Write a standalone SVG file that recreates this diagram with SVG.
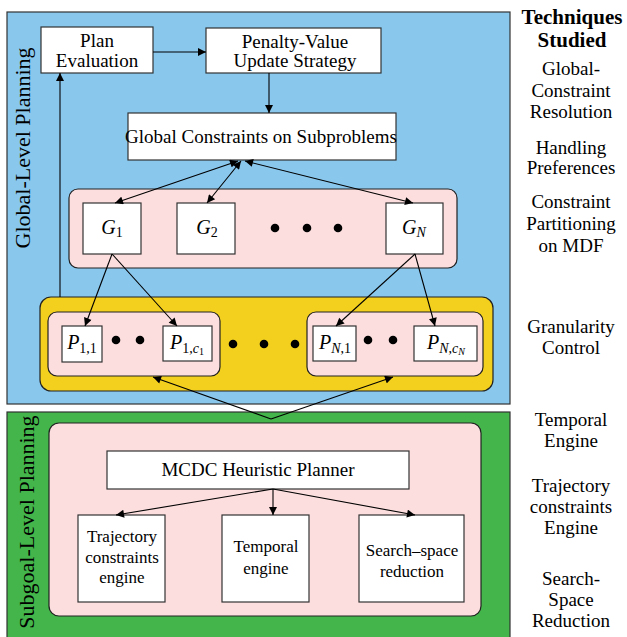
<svg xmlns="http://www.w3.org/2000/svg" width="627" height="637" viewBox="0 0 627 637" font-family="'Liberation Serif', 'DejaVu Serif', serif">
<style>
text{font-family:'Liberation Serif','DejaVu Serif','Times New Roman',serif;fill:#000}
.lbl{font-size:19px;text-anchor:middle}
.sm{font-size:17px;text-anchor:middle}
.side{font-size:19px;text-anchor:middle}
.hdr{font-size:21px;font-weight:bold;text-anchor:middle}
.vert{font-size:22px;text-anchor:middle}
.box{fill:#fff;stroke:#333;stroke-width:1.2}
.pink{fill:#fcdede;stroke:#222;stroke-width:1.2}
.math{font-size:20px;text-anchor:middle}
.it{font-style:italic}
.edge{stroke:#000;stroke-width:1.1;fill:none}
.dot{fill:#000}
</style>
<defs>
<marker id="ah" viewBox="0 0 10 10" refX="10" refY="5" markerWidth="10" markerHeight="8" markerUnits="userSpaceOnUse" orient="auto-start-reverse">
<path d="M0,0 L10,5 L0,10 z" fill="#000"/>
</marker>
</defs>

<g id="global-panel">
<rect x="7" y="12" width="503" height="392" fill="#89c7ed" stroke="#333" stroke-width="1.2"/>
<text class="vert" transform="translate(30,148) rotate(-90)">Global-Level Planning</text>
</g>
<g id="subgoal-panel">
<rect x="7" y="412" width="503" height="230" fill="#43b54a" stroke="#333" stroke-width="1.2"/>
<text class="vert" transform="translate(34,522) rotate(-90)">Subgoal-Level Planning</text>
</g>

<g id="plan-evaluation">
<rect class="box" x="41" y="27" width="112" height="46"/>
<text class="lbl" x="97" y="47">Plan</text>
<text class="lbl" x="97" y="67">Evaluation</text>
</g>
<g id="penalty-value">
<rect class="box" x="206" y="28" width="175" height="45"/>
<text class="lbl" x="295" y="48">Penalty-Value</text>
<text class="lbl" x="295" y="67">Update Strategy</text>
</g>
<g id="global-constraints">
<rect class="box" x="128" y="113" width="268" height="47"/>
<text class="lbl" x="261" y="143">Global Constraints on Subproblems</text>
</g>

<g id="g-group">
<rect class="pink" x="69" y="189" width="388" height="79" rx="9"/>
<g id="g1">
<rect class="box" x="83" y="203" width="58" height="51"/>
<text class="math" x="112" y="234"><tspan class="it">G</tspan><tspan font-size="14" dy="3">1</tspan></text>
</g>
<g id="g2">
<rect class="box" x="177" y="203" width="58" height="51"/>
<text class="math" x="207" y="234"><tspan class="it">G</tspan><tspan font-size="14" dy="3">2</tspan></text>
</g>
<circle class="dot" cx="275" cy="228" r="4.3"/>
<circle class="dot" cx="307" cy="228" r="4.3"/>
<circle class="dot" cx="338" cy="228" r="4.3"/>
<g id="gN">
<rect class="box" x="386" y="203" width="57" height="51"/>
<text class="math" x="414" y="234"><tspan class="it">G</tspan><tspan class="it" font-size="14" dy="3">N</tspan></text>
</g>
</g>

<g id="granularity">
<rect x="40" y="297" width="453" height="94" rx="11" fill="#f4d01e" stroke="#222" stroke-width="1.2"/>
<circle class="dot" cx="233" cy="344" r="4.3"/>
<circle class="dot" cx="264" cy="344" r="4.3"/>
<circle class="dot" cx="295" cy="344" r="4.3"/>
</g>

<g id="p1-group">
<rect class="pink" x="48" y="312" width="172" height="64" rx="9"/>
<g id="p11">
<rect class="box" x="62" y="326" width="40" height="36"/>
<text class="math" x="82" y="349"><tspan class="it">P</tspan><tspan font-size="14" dy="4">1,1</tspan></text>
</g>
<circle class="dot" cx="116" cy="340" r="4.3"/>
<circle class="dot" cx="140" cy="340" r="4.3"/>
<g id="p1c1">
<rect class="box" x="163" y="326" width="49" height="35"/>
<text class="math" x="187" y="349"><tspan class="it">P</tspan><tspan font-size="14" dy="4">1,</tspan><tspan class="it" font-size="14">c</tspan><tspan font-size="10" dy="2">1</tspan></text>
</g>
</g>

<g id="pN-group">
<rect class="pink" x="307" y="312" width="176" height="64" rx="9"/>
<g id="pN1">
<rect class="box" x="313" y="326" width="43" height="35"/>
<text class="math" x="335" y="349"><tspan class="it">P</tspan><tspan class="it" font-size="14" dy="4">N</tspan><tspan font-size="14">,1</tspan></text>
</g>
<circle class="dot" cx="368" cy="340" r="4.3"/>
<circle class="dot" cx="393" cy="340" r="4.3"/>
<g id="pNcN">
<rect class="box" x="414" y="326" width="63" height="35"/>
<text class="math" x="446" y="349"><tspan class="it">P</tspan><tspan class="it" font-size="14" dy="4">N</tspan><tspan font-size="14">,</tspan><tspan class="it" font-size="14">c</tspan><tspan class="it" font-size="10" dy="2">N</tspan></text>
</g>
</g>

<g id="mcdc-group">
<rect class="pink" x="49" y="423" width="432" height="193" rx="10"/>
<g id="mcdc">
<rect class="box" x="107" y="451" width="302" height="38"/>
<text class="lbl" x="258" y="476">MCDC Heuristic Planner</text>
</g>
<g id="trajectory">
<rect class="box" x="78" y="515" width="87" height="87"/>
<text class="sm" x="122" y="542">Trajectory</text>
<text class="sm" x="122" y="563">constraints</text>
<text class="sm" x="122" y="583">engine</text>
</g>
<g id="temporal">
<rect class="box" x="222" y="515" width="87" height="87"/>
<text class="sm" x="266" y="552">Temporal</text>
<text class="sm" x="266" y="574">engine</text>
</g>
<g id="search">
<rect class="box" x="359" y="515" width="105" height="87"/>
<text class="sm" x="412" y="556">Search–space</text>
<text class="sm" x="412" y="577">reduction</text>
</g>
</g>

<g id="connectors">
<line class="edge" x1="153" y1="52" x2="206" y2="52" marker-end="url(#ah)"/>
<line class="edge" x1="269" y1="73" x2="269" y2="113" marker-end="url(#ah)"/>
<line class="edge" x1="60" y1="297" x2="60" y2="73" marker-end="url(#ah)"/>
<line class="edge" x1="238" y1="161" x2="115" y2="203" marker-start="url(#ah)" marker-end="url(#ah)"/>
<line class="edge" x1="241" y1="161" x2="207" y2="203" marker-start="url(#ah)" marker-end="url(#ah)"/>
<line class="edge" x1="245" y1="161" x2="413" y2="203" marker-start="url(#ah)" marker-end="url(#ah)"/>
<line class="edge" x1="112" y1="254" x2="85" y2="326" marker-end="url(#ah)"/>
<line class="edge" x1="112" y1="254" x2="177" y2="326" marker-end="url(#ah)"/>
<line class="edge" x1="415" y1="254" x2="336" y2="326" marker-end="url(#ah)"/>
<line class="edge" x1="415" y1="254" x2="435" y2="326" marker-end="url(#ah)"/>
<line class="edge" x1="271" y1="419" x2="153" y2="377" marker-end="url(#ah)"/>
<line class="edge" x1="271" y1="419" x2="393" y2="377" marker-end="url(#ah)"/>
<line class="edge" x1="273" y1="489" x2="116" y2="515" marker-end="url(#ah)"/>
<line class="edge" x1="273" y1="489" x2="273" y2="515" marker-end="url(#ah)"/>
<line class="edge" x1="273" y1="489" x2="415" y2="515" marker-end="url(#ah)"/>
</g>

<g id="techniques">
<text class="hdr" x="572" y="24">Techniques</text>
<text class="hdr" x="572" y="47">Studied</text>
<text class="side" x="571" y="75">Global-</text>
<text class="side" x="571" y="97">Constraint</text>
<text class="side" x="571" y="118">Resolution</text>
<text class="side" x="571" y="154">Handling</text>
<text class="side" x="571" y="174">Preferences</text>
<text class="side" x="571" y="208">Constraint</text>
<text class="side" x="571" y="230">Partitioning</text>
<text class="side" x="571" y="252">on MDF</text>
<text class="side" x="571" y="333">Granularity</text>
<text class="side" x="571" y="354">Control</text>
<text class="side" x="571" y="426">Temporal</text>
<text class="side" x="571" y="447">Engine</text>
<text class="side" x="571" y="492">Trajectory</text>
<text class="side" x="571" y="513">constraints</text>
<text class="side" x="571" y="534">Engine</text>
<text class="side" x="571" y="585">Search-</text>
<text class="side" x="571" y="606">Space</text>
<text class="side" x="571" y="627">Reduction</text>
</g>
</svg>
